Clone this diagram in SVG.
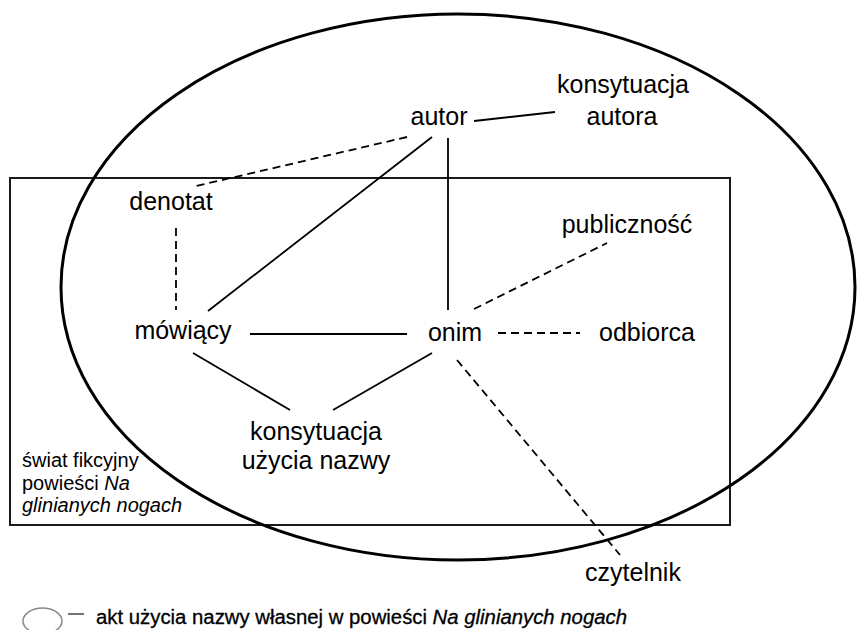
<svg xmlns="http://www.w3.org/2000/svg" width="857" height="630" viewBox="0 0 857 630">
<style>
text{font-family:"Liberation Sans",Arial,sans-serif;fill:#000}
.n{font-size:25px}
.s{font-size:20px}
.c{stroke:#000;stroke-width:1.8;fill:none}
.d{stroke-dasharray:8 5}
</style>
<rect width="857" height="630" fill="#fff"/>
<g id="frame">
<rect x="10" y="178" width="720" height="347" fill="none" stroke="#1a1a1a" stroke-width="2"/>
<ellipse cx="458" cy="287" rx="397" ry="273" fill="none" stroke="#000" stroke-width="3"/>
</g>
<g id="connectors">
<line class="c" x1="474" y1="121" x2="555" y2="112"/>
<line class="c d" x1="407" y1="137" x2="192" y2="187"/>
<line class="c" x1="432" y1="137" x2="208" y2="311"/>
<line class="c" x1="448" y1="138" x2="448" y2="310"/>
<line class="c d" x1="176" y1="228" x2="176" y2="310"/>
<line class="c" x1="250" y1="334" x2="407" y2="334"/>
<line class="c d" x1="498" y1="333" x2="580" y2="333"/>
<line class="c d" x1="474" y1="309" x2="607" y2="243"/>
<line class="c" x1="432" y1="353" x2="333" y2="410"/>
<line class="c" x1="193" y1="353" x2="290" y2="410"/>
<line class="c d" x1="457" y1="360" x2="620" y2="555"/>
</g>
<g id="autor"><text class="n" x="439" y="125" text-anchor="middle">autor</text></g>
<g id="konsytuacja-autora"><text class="n" x="623" y="93" text-anchor="middle">konsytuacja</text><text class="n" x="622" y="125" text-anchor="middle">autora</text></g>
<g id="denotat"><text class="n" x="171" y="210" text-anchor="middle">denotat</text></g>
<g id="publicznosc"><text class="n" x="627" y="233" text-anchor="middle">publiczność</text></g>
<g id="mowiacy"><text class="n" x="183" y="339" text-anchor="middle">mówiący</text></g>
<g id="onim"><text class="n" x="455" y="341" text-anchor="middle">onim</text></g>
<g id="odbiorca"><text class="n" x="647" y="341" text-anchor="middle">odbiorca</text></g>
<g id="konsytuacja-uzycia"><text class="n" x="316" y="440" text-anchor="middle">konsytuacja</text><text class="n" x="316" y="469" text-anchor="middle">użycia nazwy</text></g>
<g id="czytelnik"><text class="n" x="633" y="581" text-anchor="middle">czytelnik</text></g>
<g id="swiat"><text class="s" x="22" y="467">świat fikcyjny</text><text class="s" x="22" y="490">powieści <tspan font-style="italic">Na</tspan></text><text class="s" x="22" y="512" font-style="italic">glinianych nogach</text></g>
<g id="legend">
<ellipse cx="42.5" cy="621" rx="19.5" ry="13" fill="none" stroke="#888" stroke-width="1.5"/>
<line x1="68" y1="614" x2="84" y2="614" stroke="#444" stroke-width="1.5"/>
<text x="96" y="624" font-size="20" textLength="531" lengthAdjust="spacingAndGlyphs" stroke="#000" stroke-width="0.3">akt użycia nazwy własnej w powieści <tspan font-style="italic">Na glinianych nogach</tspan></text>
</g>
</svg>
